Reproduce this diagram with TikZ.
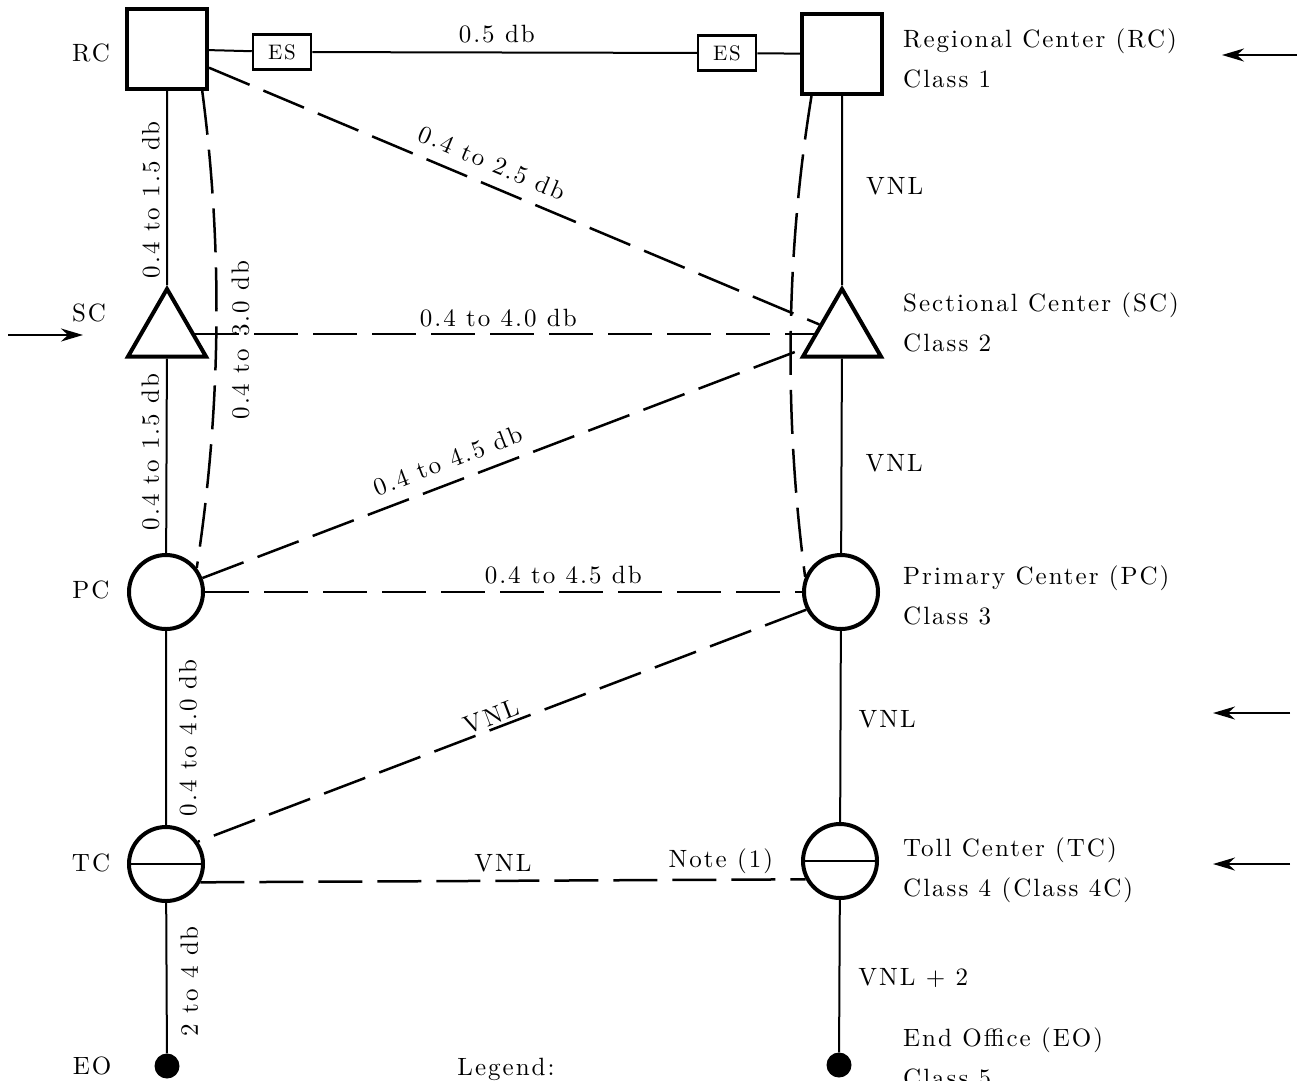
\documentclass[tikz,border=0pt]{standalone}
\usepackage{fontspec}
\usepackage{tikz}
\usetikzlibrary{shapes.geometric, arrows.meta, positioning, calc}

\newfontfamily\plotrm{lmroman10-regular.otf}[LetterSpace=8]
\newcommand{\tagfont}{\fontsize{25}{40}\plotrm}
\newcommand{\esfont}{\fontsize{21}{22}\plotrm}

\begin{document}
\begin{tikzpicture}[
    x=1pt, y=-1pt,
    every node/.style={font=\tagfont},
    office/.style={draw, line width=4pt, inner sep=0pt},
    rc/.style={office, rectangle, minimum width=80pt, minimum height=80pt},
    sc/.style={office, regular polygon, regular polygon sides=3, minimum size=90pt},
    pc/.style={office, circle, minimum size=74pt},
    tc/.style={pc, path picture={\draw[line width=2.5pt] (path picture bounding box.west) -- (path picture bounding box.east);}},
    eo/.style={circle, fill, minimum size=25pt, inner sep=0pt},
    es/.style={draw, line width=2.5pt, minimum width=58pt, minimum height=35pt, inner sep=0pt, font=\esfont},
    trunk/.style={line width=2pt},
    alt/.style={line width=2.5pt, dash pattern=on 44pt off 15pt},
    ptr/.style={line width=2pt, -{Stealth[length=22pt, width=13pt, inset=7pt]}},
    desc/.style={align=left, anchor=west, inner sep=3pt},
    lbl/.style={inner sep=3pt}
]
\useasboundingbox (0,0) rectangle (1297,1080);
\clip (0,0) rectangle (1297,1080);

% offices, left column
\node (rcL) [rc] at (167,49) {};
\node (scL) [sc] at (167,334) {};
\node (pcL) [pc] at (166,592) {};
\node (tcL) [tc] at (166,864) {};
\node (eoL) [eo] at (167,1066) {};

% offices, right column
\node (rcR) [rc] at (842,54) {};
\node (scR) [sc] at (842,334) {};
\node (pcR) [pc] at (841,592) {};
\node (tcR) [tc] at (840,861) {};
\node (eoR) [eo] at (839,1065) {};

% echo suppressors
\node (esL) [es] at (282,52) {ES};
\node (esR) [es] at (727,53) {ES};

% tags and descriptions
\node (rcTag) at (91,53) {RC};
\node (scTag) at (89,313) {SC};
\node (pcTag) at (91,590) {PC};
\node (tcTag) at (91,863) {TC};
\node (eoTag) at (92,1066) {EO};

\node (rcDesc) [desc] at (900,58) {Regional Center (RC)\\Class 1};
\node (scDesc) [desc] at (900,322) {Sectional Center (SC)\\Class 2};
\node (pcDesc) [desc] at (900,595) {Primary Center (PC)\\Class 3};
\node (tcDesc) [desc] at (900,870) {Toll Center (TC)\\Class 4 (Class 4C)};
\node (eoDesc) [desc] at (900,1057) {End Office (EO)\\Class 5};

\node (legend) at (506,1069) {Legend:};

% final routes
\draw[trunk] (rcL) -- node[lbl, rotate=90, anchor=south, pos=0.56, inner sep=6pt] {0.4 to 1.5 db} (scL)
    -- node[lbl, rotate=90, anchor=south, pos=0.48, inner sep=6pt] {0.4 to 1.5 db} (pcL)
    -- node[lbl, rotate=90, anchor=north, pos=0.55, inner sep=12pt] {0.4 to 4.0 db} (tcL)
    -- node[lbl, rotate=90, anchor=north, pos=0.52, inner sep=13pt] {2 to 4 db} (eoL);
\draw[trunk] (rcR) -- node[lbl, right=20pt, pos=0.48] {VNL} (scR)
    -- node[lbl, right=20pt, pos=0.54] {VNL} (pcR)
    -- node[lbl, right=14pt, pos=0.46] {VNL} (tcR)
    -- node[lbl, right=15pt, pos=0.51] {VNL + 2} (eoR);
\draw[trunk] (rcL) -- (esL) -- node[lbl, above, pos=0.48, inner sep=8pt] {0.5 db} (esR) -- (rcR);

% high usage and alternate routes
\draw[alt] (rcL.-50) .. controls +(21,160) and +(24,-157) ..
    node[lbl, rotate=90, anchor=north, pos=0.52, inner sep=14pt] {0.4 to\hspace{12pt}3.0 db} (pcL.38);
\draw[alt] (rcR.234) .. controls +(-26,160) and +(-21,-160) .. (pcR.157);
\draw[alt] (rcL.-24) -- node[lbl, sloped, above, pos=0.45, inner sep=12pt] {0.4 to 2.5 db} (scR);
\draw[alt] (scL) -- node[lbl, above, pos=0.49, inner sep=6pt] {0.4 to 4.0 db} (scR);
\draw[alt] (pcL.21) -- node[lbl, sloped, above, pos=0.42, inner sep=12pt] {0.4 to 4.5 db} (scR);
\draw[alt] (pcL) -- node[lbl, above, pos=0.6, inner sep=7pt] {0.4 to 4.5 db} (pcR);
\draw[alt] (pcR.207) -- node[lbl, sloped, above, pos=0.51, inner sep=2pt] {VNL} (tcL.35);
\draw[alt] (tcL.-28) -- node[lbl, above, pos=0.5, inner sep=8pt] {VNL}
    node[lbl, above, pos=0.86, inner sep=5pt] {Note (1)} (tcR.208);

% pointers
\coordinate (scPtrTail) at (8,335);
\coordinate (scPtrHead) at (83,335);
\coordinate (rcPtrTail) at (1297,55);
\coordinate (rcPtrHead) at (1222,55);
\coordinate (pcPtrTail) at (1290,713);
\coordinate (pcPtrHead) at (1213,713);
\coordinate (tcPtrTail) at (1290,864);
\coordinate (tcPtrHead) at (1213,864);
\draw[ptr] (scPtrTail) -- (scPtrHead);
\draw[ptr] (rcPtrTail) -- (rcPtrHead);
\draw[ptr] (pcPtrTail) -- (pcPtrHead);
\draw[ptr] (tcPtrTail) -- (tcPtrHead);

\end{tikzpicture}
\end{document}
